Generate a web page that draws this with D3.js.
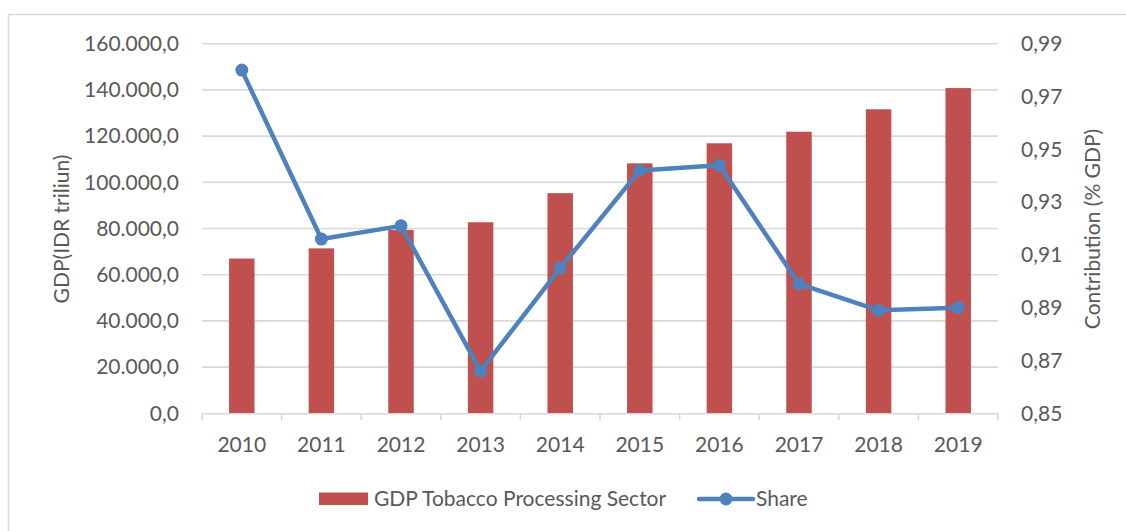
<!DOCTYPE html>
<html>
<head>
<meta charset="utf-8">
<script src="https://cdn.jsdelivr.net/npm/d3@7"></script>
<style>
  html, body { margin: 0; padding: 0; background: #fff; }
  svg { display: block; font-family: Lato, "Open Sans", sans-serif; }
</style>
</head>
<body>
<svg id="chart" width="1126" height="531"></svg>
<script>
// Tobacco processing sector: GDP (bars, left axis) and share of GDP (line, right axis)
const years = ["2010", "2011", "2012", "2013", "2014", "2015", "2016", "2017", "2018", "2019"];
const gdpValues = [67000, 71400, 79400, 82700, 95300, 108200, 116900, 121900, 131600, 140800];
const shareValues = [0.980, 0.916, 0.921, 0.866, 0.905, 0.942, 0.944, 0.899, 0.889, 0.890];
const gdpTicks = [0, 20000, 40000, 60000, 80000, 100000, 120000, 140000, 160000];
const shareTicks = [0.85, 0.87, 0.89, 0.91, 0.93, 0.95, 0.97, 0.99];
const seriesNames = ["GDP Tobacco Processing Sector", "Share"];

const barColor = "#C0504D";
const lineColor = "#4F81BD";
const gridColor = "#D9D9D9";
const textColor = "#595959";
const fontSize = "21px";

const svg = d3.select("#chart");
const plot = { left: 202, right: 998, top: 43.7, bottom: 413.3 };

// chart frame
svg.append("rect")
  .attr("x", 8.5).attr("y", 14.5)
  .attr("width", 1140).attr("height", 540)
  .attr("fill", "none").attr("stroke", gridColor).attr("stroke-width", 1.5);

const x = d3.scaleBand().domain(years).range([plot.left, plot.right]).paddingInner(0).paddingOuter(0);
const yL = d3.scaleLinear().domain([0, 160000]).range([plot.bottom, plot.top]);
const yR = d3.scaleLinear().domain([0.85, 0.99]).range([plot.bottom, plot.top]);

const fmtGdp = v => d3.format(",.1f")(v).replace(/,/g, "#").replace(/\./g, ",").replace(/#/g, ".");
const fmtShare = v => d3.format(".2f")(v).replace(".", ",");

// horizontal gridlines
svg.append("g")
  .selectAll("line")
  .data(gdpTicks.filter(d => d > 0))
  .join("line")
  .attr("x1", plot.left).attr("x2", plot.right)
  .attr("y1", d => yL(d)).attr("y2", d => yL(d))
  .attr("stroke", gridColor).attr("stroke-width", 1.6);

// left axis
const leftAxis = svg.append("g")
  .attr("transform", `translate(${plot.left},0)`)
  .call(d3.axisLeft(yL).tickValues(gdpTicks).tickFormat(fmtGdp).tickSize(0).tickPadding(23));
leftAxis.select(".domain").remove();
leftAxis.selectAll("text").attr("fill", textColor).style("font-size", fontSize).style("font-family", "Lato, sans-serif");

// right axis
const rightAxis = svg.append("g")
  .attr("transform", `translate(${plot.right},0)`)
  .call(d3.axisRight(yR).tickValues(shareTicks).tickFormat(fmtShare).tickSize(0).tickPadding(23));
rightAxis.select(".domain").remove();
rightAxis.selectAll("text").attr("fill", textColor).style("font-size", fontSize).style("font-family", "Lato, sans-serif");

// bars
const barW = x.bandwidth() * 0.32;
svg.append("g")
  .selectAll("rect")
  .data(years.map((y, i) => ({ year: y, value: gdpValues[i] })))
  .join("rect")
  .attr("x", d => x(d.year) + x.bandwidth() / 2 - barW / 2)
  .attr("y", d => yL(d.value))
  .attr("width", barW)
  .attr("height", d => yL(0) - yL(d.value))
  .attr("fill", barColor);

// bottom axis with ticks between categories
const bottomAxis = svg.append("g")
  .attr("transform", `translate(0,${plot.bottom})`)
  .call(d3.axisBottom(x).tickSize(0).tickPadding(24));
bottomAxis.select(".domain").attr("stroke", gridColor).attr("stroke-width", 1.6);
bottomAxis.selectAll("text").attr("fill", textColor).style("font-size", fontSize).style("font-family", "Lato, sans-serif");
svg.append("g")
  .selectAll("line")
  .data(years.map(y => x(y)).concat([plot.right]))
  .join("line")
  .attr("x1", d => d).attr("x2", d => d)
  .attr("y1", plot.bottom).attr("y2", plot.bottom + 7)
  .attr("stroke", gridColor).attr("stroke-width", 1.6);

// share line
const pts = years.map((y, i) => ({ year: y, value: shareValues[i] }));
const line = d3.line()
  .x(d => x(d.year) + x.bandwidth() / 2)
  .y(d => yR(d.value));
svg.append("path")
  .datum(pts)
  .attr("d", line)
  .attr("fill", "none")
  .attr("stroke", lineColor)
  .attr("stroke-width", 4.5)
  .attr("stroke-linejoin", "round");
svg.append("g")
  .selectAll("circle")
  .data(pts)
  .join("circle")
  .attr("cx", d => x(d.year) + x.bandwidth() / 2)
  .attr("cy", d => yR(d.value))
  .attr("r", 6.5)
  .attr("fill", lineColor);

// axis titles
svg.append("text")
  .attr("transform", `translate(69,229) rotate(-90)`)
  .attr("text-anchor", "middle")
  .attr("fill", textColor)
  .style("font-size", fontSize)
  .text("GDP(IDR triliun)");
svg.append("text")
  .attr("transform", `translate(1100,229) rotate(-90)`)
  .attr("text-anchor", "middle")
  .attr("fill", textColor)
  .style("font-size", fontSize)
  .text("Contribution (% GDP)");

// legend
const legend = svg.append("g");
legend.append("rect")
  .attr("x", 319).attr("y", 492.5).attr("width", 49).attr("height", 12.5)
  .attr("fill", barColor);
legend.append("text")
  .attr("x", 374).attr("y", 499).attr("dy", "0.35em")
  .attr("fill", textColor).style("font-size", fontSize)
  .text(seriesNames[0]);
legend.append("line")
  .attr("x1", 699).attr("x2", 753).attr("y1", 499).attr("y2", 499)
  .attr("stroke", lineColor).attr("stroke-width", 4.5).attr("stroke-linecap", "round");
legend.append("circle")
  .attr("cx", 726).attr("cy", 499).attr("r", 6.5).attr("fill", lineColor);
legend.append("text")
  .attr("x", 756).attr("y", 499).attr("dy", "0.35em")
  .attr("fill", textColor).style("font-size", fontSize)
  .text(seriesNames[1]);
</script>
</body>
</html>
